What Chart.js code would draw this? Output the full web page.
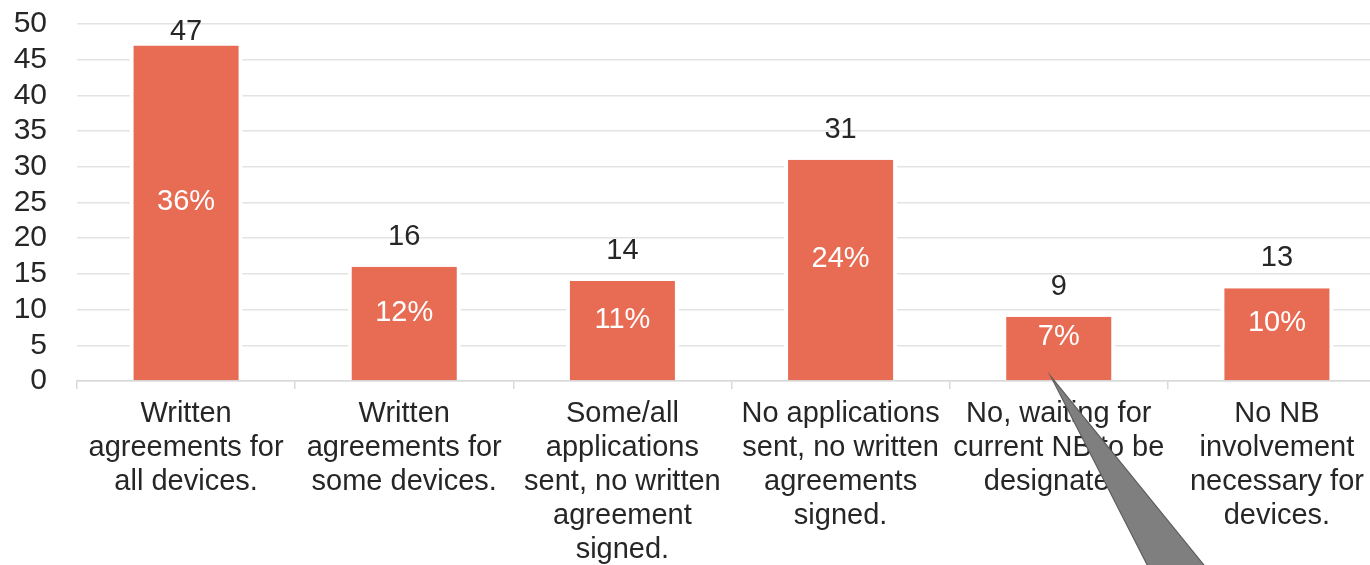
<!DOCTYPE html>
<html>
<head>
<meta charset="utf-8">
<script src="https://cdn.jsdelivr.net/npm/chart.js@4/dist/chart.umd.min.js"></script>
<style>
  html, body { margin: 0; padding: 0; background: #fff; overflow: hidden; }
  #wrap { position: absolute; left: 0; top: -24px; width: 1400px; height: 589px; }
</style>
</head>
<body>
<div id="wrap"><canvas id="chart" width="1400" height="589"></canvas></div>
<script>
// categories and values
const categories = [
  ["Written", "agreements for", "all devices."],
  ["Written", "agreements for", "some devices."],
  ["Some/all", "applications", "sent, no written", "agreement", "signed."],
  ["No applications", "sent, no written", "agreements", "signed."],
  ["No, waiting for", "current NB to be", "designated."],
  ["No NB", "involvement", "necessary for", "devices."]
];
const counts = [47, 16, 14, 31, 9, 13];
const shares = ["36%", "12%", "11%", "24%", "7%", "10%"];
const yTicks = [0, 5, 10, 15, 20, 25, 30, 35, 40, 45, 50];

const FONT = "'Liberation Sans', Arial, sans-serif";
const TEXT = "#262626";
const BAR = "#E86B54";

// value on top, share inside the bar
const labelPlugin = {
  id: "barLabels",
  afterDatasetsDraw(chart) {
    const ctx = chart.ctx;
    const meta = chart.getDatasetMeta(0);
    const top = chart.chartArea.top;
    ctx.save();
    ctx.font = "29px " + FONT;
    ctx.textAlign = "center";
    meta.data.forEach((bar, i) => {
      // count above (kept inside the plot at the top)
      let base = bar.y - 22;
      if (base < top + 16) base = top + 16;
      ctx.fillStyle = TEXT;
      ctx.textBaseline = "alphabetic";
      ctx.fillText(String(counts[i]), bar.x, base);
      // share inside
      ctx.fillStyle = "#ffffff";
      ctx.textBaseline = "middle";
      ctx.fillText(shares[i], bar.x, (bar.y + bar.base) / 2 - 11);
    });
    ctx.restore();
  },
  // grey callout pointer left over in the source, anchored on the 5th bar
  afterDraw(chart) {
    const bar = chart.getDatasetMeta(0).data[4];
    if (!bar) return;
    const ctx = chart.ctx;
    const h = chart.height;
    const tipX = bar.x - 8, tipY = bar.base - 4;
    ctx.save();
    ctx.beginPath();
    ctx.moveTo(tipX, tipY);
    ctx.lineTo(tipX + 97, h + 1);
    ctx.lineTo(tipX + 154, h + 1);
    ctx.closePath();
    ctx.fillStyle = "#7f7f7f";
    ctx.fill();
    ctx.strokeStyle = "#5e5e5e";
    ctx.lineWidth = 1.2;
    ctx.stroke();
    ctx.restore();
  }
};

new Chart(document.getElementById("chart"), {
  type: "bar",
  data: {
    labels: categories,
    datasets: [{
      data: counts,
      backgroundColor: BAR,
      borderColor: "#ffffff",
      borderWidth: { left: 4, right: 4, top: 0, bottom: 0 },
      borderSkipped: false,
      categoryPercentage: 1,
      barPercentage: 0.518
    }]
  },
  options: {
    responsive: false,
    animation: false,
    layout: { padding: { top: 0, right: 14, bottom: 0, left: 0 } },
    plugins: {
      legend: { display: false },
      tooltip: { enabled: false }
    },
    scales: {
      x: {
        grid: {
          display: true,
          drawOnChartArea: false,
          drawTicks: true,
          tickLength: 8,
          color: "#d9d9d9",
          lineWidth: 1.5,
          offset: true
        },
        border: { display: true, color: "#d9d9d9", width: 1.5 },
        ticks: {
          color: TEXT,
          font: { family: FONT, size: 29, lineHeight: 1.17 },
          padding: 8,
          maxRotation: 0,
          autoSkip: false
        },
        afterFit(scale) { scale.height = 184; }
      },
      y: {
        min: 0,
        max: 50,
        afterBuildTicks(scale) { scale.ticks = yTicks.map(v => ({ value: v })); },
        grid: { color: "#e3e3e3", lineWidth: 1.5, drawTicks: false },
        border: { display: false },
        ticks: {
          color: TEXT,
          font: { family: FONT, size: 30 },
          padding: 30,
          autoSkip: false
        },
        afterFit(scale) { scale.width = 77; }
      }
    }
  },
  plugins: [labelPlugin]
});
</script>
</body>
</html>
